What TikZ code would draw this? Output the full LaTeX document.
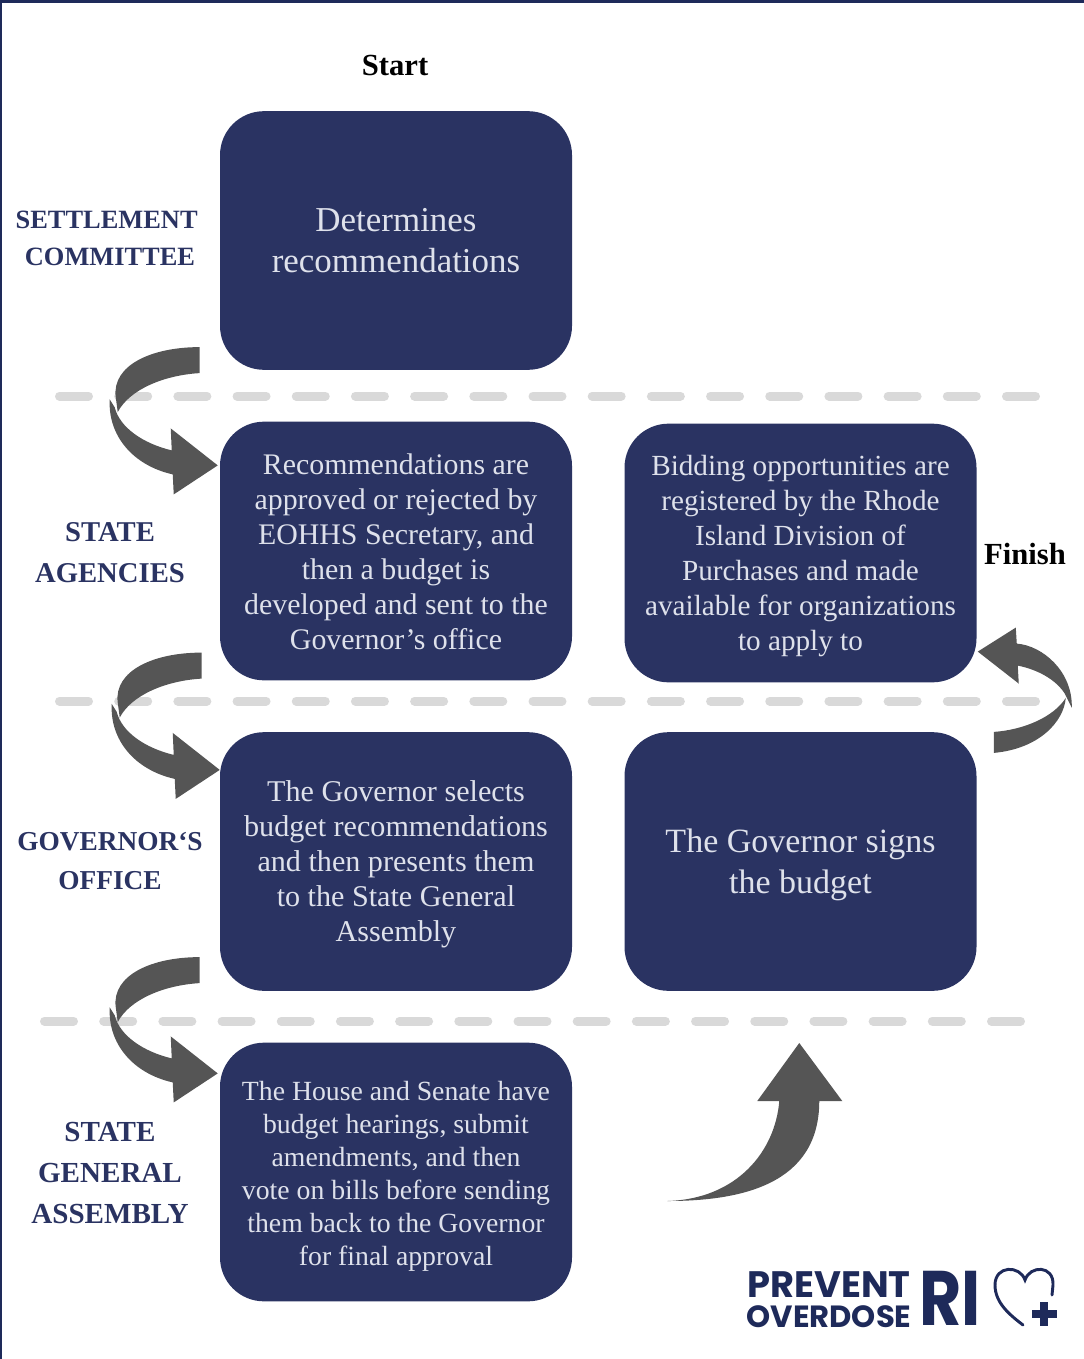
\documentclass[tikz,border=0pt]{standalone}
\usepackage{fontspec}
\setmainfont{Liberation Serif}
\newfontfamily\logofont{Poppins}
\usetikzlibrary{calc,positioning}
\definecolor{ridnavy}{RGB}{42,51,98}
\definecolor{ridedge}{RGB}{30,42,90}
\definecolor{ridtext}{RGB}{222,225,235}
\definecolor{ridgrey}{RGB}{85,85,85}
\definecolor{riddash}{RGB}{217,217,217}
\tikzset{
  stepbox/.style={rectangle, rounded corners=33pt, minimum width=264pt, minimum height=194pt, inner sep=0pt, align=center, fill=ridnavy, text=ridtext},
  boxfont/.style 2 args={font=\fontsize{#1}{#2}\selectfont},
  rowlabel/.style 2 args={align=center, text=ridnavy, inner sep=0pt, font=\bfseries\fontsize{#1}{#2}\selectfont},
  flowlabel/.style={text=black, inner sep=0pt, font=\bfseries\fontsize{23}{27}\selectfont},
  divider/.style={line width=6.75pt, line cap=round, color=riddash, dash pattern=on 21.75pt off 22.64pt},
  swoopfill/.style={fill=ridgrey}
}
% invisible strut on a first line, pushes the block of text down
\newcommand{\drop}[1]{\rule{0pt}{#1pt}}
% curved block arrow: #1 source box, #2 target box, #3 tail offset, #4 tip offset
\newcommand{\swoop}[4]{
  \fill[swoopfill, shift={($(#1.south west)+(#3)$)}] (0,0) -- (0,26) .. controls (-35,28) and (-70,42) .. (-82,65) -- (-84,50) .. controls (-88,18) and (-48,0) .. (0,0) -- cycle;
  \fill[swoopfill, shift={($(#2.north west)+(#4)$)}] (-108,-66) .. controls (-110,-30) and (-85,0) .. (-45,9) -- (-44,29) -- (0,0) -- (-47,-37) -- (-46,-15) .. controls (-75,-22) and (-98,-38) .. (-103,-58) -- cycle;
}
\begin{document}
\begin{tikzpicture}[x=0.75pt,y=-0.75pt]
\useasboundingbox (0,0) rectangle (1084,1359);

% Frame
\fill[ridedge] (0,0) rectangle (1084,3);
\fill[ridedge] (0,0) rectangle (2,1359);

% Dividers
\draw[divider] (59.5,396) -- (1036.5,396);
\draw[divider] (59.5,701) -- (1036.5,701);
\draw[divider] (44.5,1021) -- (1021.5,1021);

% Boxes
\node[stepbox, boxfont={26.2}{30.75}] (settle) at (396,240.5) {Determines\\recommendations};
\node[stepbox, boxfont={22.4}{26.25}] (agencies) at (396,551) {\drop{16}Recommendations are\\approved or rejected by\\EOHHS Secretary, and\\then a budget is\\developed and sent to the\\Governor’s office};
\node[stepbox, boxfont={22.6}{26.25}] (governor) at (396,861.5) {\drop{20}The Governor selects\\budget recommendations\\and then presents them\\to the State General\\Assembly};
\node[stepbox, boxfont={20.8}{24.75}] (house) at (396,1172) {\drop{21}The House and Senate have\\budget hearings, submit\\amendments, and then\\vote on bills before sending\\them back to the Governor\\for final approval};
\node[stepbox, boxfont={25.5}{30.75}] (signs) at (800.5,861.5) {\drop{22}The Governor signs\\the budget};
\node[stepbox, boxfont={21.9}{26.25}] (bidding) at (800.5,553) {\drop{19}Bidding opportunities are\\registered by the Rhode\\Island Division of\\Purchases and made\\available for organizations\\to apply to};

% Row labels
\node[rowlabel={19.8}{27.75}] (lblsettle) at (110,238.5) {SETTLEMENT\hspace*{5pt}\\COMMITTEE};
\node[rowlabel={21.5}{30.75}] (lblagency) at (110,552.5) {STATE\\AGENCIES};
\node[rowlabel={20.5}{29.25}] (lblgov) at (110,861.5) {GOVERNOR‘S\\OFFICE};
\node[rowlabel={21.8}{30.75}] (lblhouse) at (110,1173.5) {STATE\\GENERAL\\ASSEMBLY};

% Start and finish
\node[flowlabel] (start) at (395,65) {Start};
\node[flowlabel] (finish) at (1025,554) {Finish};

% Arrows
\swoop{settle}{agencies}{-20,-23}{-2,44}
\swoop{agencies}{governor}{-18,-28}{0,38}
\swoop{governor}{house}{-20,-34}{-2,31}

\fill[swoopfill, shift={($(signs.north east)+(17,0)$)}] (0,0) .. controls (30,-2) and (60,-15) .. (72,-34) .. controls (70,-10) and (45,17) .. (0,21) -- cycle;
\fill[swoopfill, shift={($(bidding.south east)+(1,-31)$)}] (0,0) -- (38,-24) -- (39,-8) .. controls (65,-6) and (95,20) .. (94,56) -- (87,42) .. controls (78,28) and (60,18) .. (40,14) -- (41,32) -- cycle;

\coordinate (rise) at ($(house.east)+(95,29)$);
\fill[swoopfill, shift={(rise)}] (0,0) .. controls (73,0) and (152,-16) .. (152,-100) -- (175,-100) -- (132,-158) -- (90,-100) -- (112,-100) .. controls (108,-50) and (70,-2) .. (0,0) -- cycle;

% Logo
\node[align=center, text=ridedge, inner sep=0pt, font=\logofont\bfseries\fontsize{23}{22.5}\selectfont] (logotext) at (829,1299.5) {{\fontsize{27.6}{22.5}\selectfont PREVENT}\\OVERDOSE};
\node[text=ridedge, inner sep=0pt, font=\logofont\bfseries\fontsize{58}{58}\selectfont] (ri) at (950,1298.5) {\scalebox{0.84}[1]{RI}};
\draw[ridedge, line width=2.2pt, line cap=round] (1023,1325) .. controls (1010,1315) and (995,1303) .. (995,1285) .. controls (995,1265) and (1020,1265) .. (1025,1280) .. controls (1030,1265) and (1054,1265) .. (1053,1285) -- (1052,1295);
\fill[ridedge] (1040,1302) rectangle (1048,1326);
\fill[ridedge] (1032,1310) rectangle (1057,1318);
\end{tikzpicture}
\end{document}
